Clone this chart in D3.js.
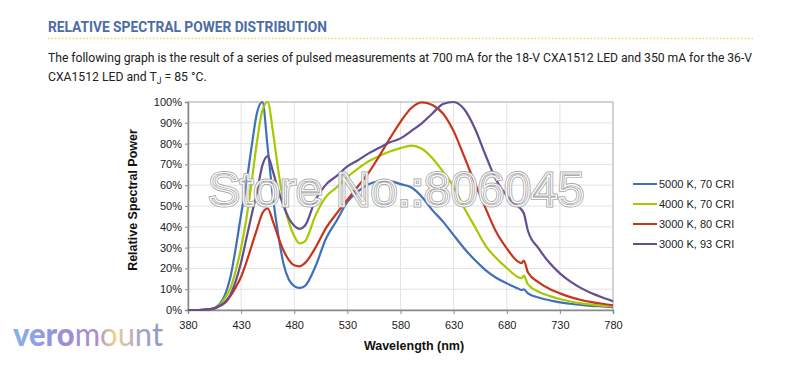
<!DOCTYPE html>
<html>
<head>
<meta charset="utf-8">
<script src="https://cdn.jsdelivr.net/npm/d3@7"></script>
<style>
  body { margin: 0; background: #fff; }
  svg { display: block; }
  .title { font-family: Roboto, sans-serif; font-weight: 700; font-size: 13.8px; fill: #4d6ca6; }
  .para { font-family: Roboto, sans-serif; font-size: 12.2px; fill: #222; }
  .tick text { font-family: "Liberation Sans", Arial, sans-serif; font-size: 11px; fill: #222; }
  .axis-label { font-family: "Liberation Sans", Arial, sans-serif; font-weight: 700; font-size: 12.5px; fill: #111; }
  .legend-text { font-family: "Liberation Sans", Arial, sans-serif; font-size: 11px; fill: #222; }
</style>
</head>
<body>
<div id="chart"></div>
<script>
// wavelength grid (nm)
const wavelengths = [380, 390, 400, 405, 410, 415, 420, 425, 430, 435, 440, 445, 450, 455, 460, 465, 470, 475, 480, 485, 490,
    500, 510, 520, 530, 540, 550, 560, 570, 580, 590, 600, 610, 620, 630, 640, 650, 660, 670, 680, 690, 694, 696,
    700, 710, 720, 730, 740, 750, 760, 770, 780];

// relative power (%) per series
const cool5000 = [0, 0, 0.4, 1, 3, 7.5, 16, 30, 46, 61, 79, 95, 100, 78, 54, 36, 22, 14.5, 11.5, 10.6, 11.5,
    21, 34.5, 43, 52, 57, 60.5, 61.8, 62, 60.5, 59, 54.5, 48, 42.5, 36, 29.6, 24, 19.2, 15.5, 12.8, 10.5, 9.6, 9.9,
    8, 6, 4.7, 3.7, 3, 2.4, 2, 1.7, 1.4];
const neutral4000 = [0, 0, 0.3, 0.8, 2.5, 6, 10.5, 19, 30, 44, 62, 81, 96, 100, 85.5, 67, 52, 42, 35.5, 32, 33,
    45.5, 54.5, 59, 64, 68, 71.5, 74, 76.2, 77.8, 79, 77.5, 73, 66.5, 59.3, 49, 40, 31, 25, 20.2, 16, 15.3, 16.5,
    12.3, 8.8, 6.8, 5.3, 4.1, 3.2, 2.6, 2.1, 1.8];
const warm3000 = [0, 0, 0.3, 0.8, 2, 3.5, 6.8, 11, 16, 23, 31, 39, 46.5, 48.8, 42.5, 35, 28.5, 24, 21.5, 21, 22.5,
    30, 39.5, 46.5, 53, 59.5, 66, 74, 82.5, 90.5, 97, 99.8, 98.6, 94.5, 86, 73.7, 61, 49, 37.6, 29.6, 23.5, 22.5, 23.8,
    18, 13.3, 10.2, 8, 6.2, 4.8, 3.8, 3, 2.3];
const warm3000hi = [0, 0, 0.3, 0.8, 2, 4, 7.5, 14, 23, 34.5, 46, 57, 69.5, 74, 66.5, 57.5, 50, 44, 40.5, 39, 40.5,
    53, 60.4, 64.5, 69, 72, 75.3, 78, 80.6, 82.5, 86, 89.7, 94.5, 99, 100, 96.5, 87.3, 74.5, 62.5, 55, 50, 48.2, 46.5,
    38, 29.6, 22.8, 17.6, 13.6, 10.5, 8, 6, 4.2];

const seriesNames = ["5000 K, 70 CRI", "4000 K, 70 CRI", "3000 K, 80 CRI", "3000 K, 93 CRI"];
const seriesColors = ["#3f70b8", "#a8c800", "#c8341c", "#634e92"];
const xTicks = [380, 430, 480, 530, 580, 630, 680, 730, 780];
const yTicks = [0, 10, 20, 30, 40, 50, 60, 70, 80, 90, 100];

const allSeries = [cool5000, neutral4000, warm3000, warm3000hi];

const W = 800, H = 384;
const margin = {top: 102, right: 187, bottom: 74, left: 188};
const width = W - margin.left - margin.right;
const height = H - margin.top - margin.bottom;

const svg = d3.select("#chart").append("svg")
    .attr("width", W)
    .attr("height", H);

// heading + note
svg.append("text")
    .attr("class", "title")
    .attr("x", 48)
    .attr("y", 32)
    .attr("textLength", 279)
    .text("RELATIVE SPECTRAL POWER DISTRIBUTION");

svg.append("line")
    .attr("x1", 48).attr("x2", 753)
    .attr("y1", 38.5).attr("y2", 38.5)
    .attr("stroke", "#f1d66a")
    .attr("stroke-width", 1.5)
    .attr("stroke-dasharray", "1.5,2");

svg.append("text")
    .attr("class", "para")
    .attr("x", 48)
    .attr("y", 62)
    .attr("textLength", 704)
    .text("The following graph is the result of a series of pulsed measurements at 700 mA for the 18-V CXA1512 LED and 350 mA for the 36-V");

const line2 = svg.append("text")
    .attr("class", "para")
    .attr("x", 48)
    .attr("y", 81);
line2.append("tspan").text("CXA1512 LED and T");
line2.append("tspan").attr("dy", 3).attr("font-size", "8.5px").text("J");
line2.append("tspan").attr("dy", -3).text(" = 85 °C.");

const g = svg.append("g")
    .attr("transform", "translate(" + margin.left + "," + margin.top + ")");

const x = d3.scaleLinear().domain([380, 780]).range([0, width]);
const y = d3.scaleLinear().domain([0, 100]).range([height, 0]);

// grid
g.append("g")
    .selectAll("line.hgrid")
    .data(yTicks)
    .enter()
    .append("line")
    .attr("x1", 0).attr("x2", width)
    .attr("y1", d => y(d)).attr("y2", d => y(d))
    .attr("stroke", "#e3e3e3");

g.append("g")
    .selectAll("line.vgrid")
    .data(xTicks)
    .enter()
    .append("line")
    .attr("y1", 0).attr("y2", height)
    .attr("x1", d => x(d)).attr("x2", d => x(d))
    .attr("stroke", "#e3e3e3");

g.append("rect")
    .attr("width", width)
    .attr("height", height)
    .attr("fill", "none")
    .attr("stroke", "#b5b5b5");

// axes
const yAxis = d3.axisLeft(y).tickValues(yTicks).tickSize(3).tickFormat(d => d + "%");
const xAxis = d3.axisBottom(x).tickValues(xTicks).tickSize(4).tickFormat(d3.format("d"));

g.append("g").call(yAxis)
    .call(a => a.select(".domain").attr("stroke", "#8a8a8a").attr("stroke-width", 1.5))
    .call(a => a.selectAll(".tick line").attr("stroke", "#8a8a8a"))
    .call(a => a.selectAll(".tick text").attr("x", -6));

g.append("g")
    .attr("transform", "translate(0," + height + ")")
    .call(xAxis)
    .call(a => a.select(".domain").attr("stroke", "#8a8a8a").attr("stroke-width", 1.5))
    .call(a => a.selectAll(".tick line").attr("stroke", "#8a8a8a"))
    .call(a => a.selectAll(".tick text").attr("dy", "1.05em"));

g.append("text")
    .attr("class", "axis-label")
    .attr("transform", "rotate(-90)")
    .attr("x", -98)
    .attr("y", -51)
    .attr("text-anchor", "middle")
    .text("Relative Spectral Power");

g.append("text")
    .attr("class", "axis-label")
    .attr("x", 226)
    .attr("y", height + 40)
    .attr("text-anchor", "middle")
    .text("Wavelength (nm)");

// curves
const lineGen = d3.line()
    .x((d, i) => x(wavelengths[i]))
    .y(d => y(d))
    .curve(d3.curveMonotoneX);

allSeries.forEach((vals, k) => {
    g.append("path")
        .datum(vals)
        .attr("fill", "none")
        .attr("stroke", seriesColors[k])
        .attr("stroke-width", 2.2)
        .attr("stroke-linejoin", "round")
        .attr("d", lineGen);
});

// watermark
const wm = g.append("g").attr("font-family", "Liberation Sans, Arial, sans-serif")
    .attr("font-size", "48px");
wm.append("text")
    .attr("x", 20).attr("y", 104)
    .attr("fill", "none")
    .attr("stroke", "#a9a9a9")
    .attr("stroke-width", 3)
    .text("Store No.:806045");
wm.append("text")
    .attr("x", 20).attr("y", 104)
    .attr("fill", "none")
    .attr("stroke", "#fff")
    .attr("stroke-width", 1.2)
    .text("Store No.:806045");

// legend
const legend = svg.append("g")
    .attr("transform", "translate(633,184)");

seriesNames.forEach((name, k) => {
    legend.append("line")
        .attr("x1", 0).attr("x2", 24)
        .attr("y1", k * 20).attr("y2", k * 20)
        .attr("stroke", seriesColors[k])
        .attr("stroke-width", 2);
    legend.append("text")
        .attr("class", "legend-text")
        .attr("x", 26)
        .attr("y", k * 20 + 4)
        .text(name);
});

// logo
const defs = svg.append("defs");
const lg = defs.append("linearGradient").attr("id", "logo-grad")
    .attr("x1", "0%").attr("x2", "100%").attr("y1", "0%").attr("y2", "0%");
[["0%", "#86b2ea"], ["30%", "#9a8fd6"], ["55%", "#a58ccf"], ["68%", "#efcf8a"], ["85%", "#a7a0d0"], ["100%", "#8a98c6"]].forEach(s => {
    lg.append("stop").attr("offset", s[0]).attr("stop-color", s[1]);
});
const logo = svg.append("text")
    .attr("x", 13)
    .attr("y", 346)
    .attr("font-family", "Lato, sans-serif")
    .attr("font-size", "32px")
    .attr("fill", "url(#logo-grad)")
    .attr("textLength", 150)
    .attr("lengthAdjust", "spacingAndGlyphs");
logo.append("tspan").attr("font-weight", 900).text("vero");
logo.append("tspan").attr("font-weight", 400).text("mount");
</script>
</body>
</html>
